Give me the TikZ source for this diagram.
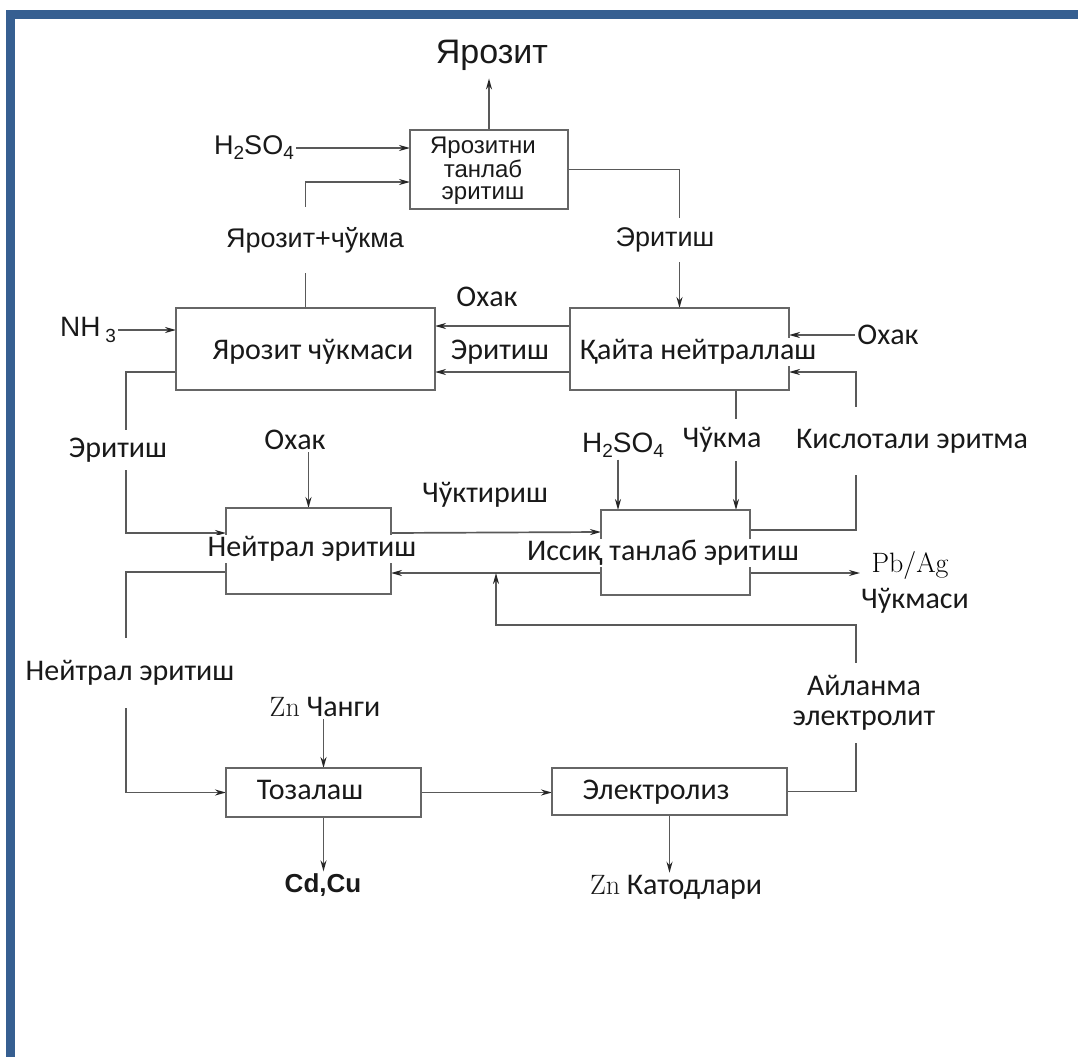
\documentclass[tikz,border=0pt]{standalone}
\usepackage{fontspec}
\usetikzlibrary{arrows.meta,calc}
\newfontfamily\calfont{Carlito}
\newfontfamily\arfont{Liberation Sans}
\newcommand\lbsub[1]{\raisebox{-0.35ex}{\fontsize{19}{19}\selectfont #1}}
\definecolor{frameblue}{RGB}{54,95,145}
\pgfdeclarelayer{bg}\pgfsetlayers{bg,main}
\begin{document}
\begin{tikzpicture}[x=1pt,y=-1pt,
  every node/.style={font=\calfont\fontsize{30}{34}\selectfont, text=black!90, inner sep=2pt},
  conn/.style={draw=black!65, line width=1.7pt},
  arr/.style={conn,-{Stealth[length=11pt,width=6pt,color=black!85]}},
  box/.style={draw=black!60, line width=2.8pt, inner sep=0pt, outer sep=0pt},
  boxtext/.style={fill=white, inner xsep=3pt, inner ysep=1pt},
  gaplbl/.style={fill=white, inner xsep=3pt, inner ysep=#1},
  gaplbl/.default=4pt,
  arial/.style={font=\arfont\fontsize{27}{30}\selectfont},
]
\useasboundingbox (0,0) rectangle (1078,1057);
\fill[frameblue] (6,10) rectangle (1078,19);
\fill[frameblue] (6,10) rectangle (15,1057);

% helper coordinates
\coordinate (lx) at (126,0);
\coordinate (rx) at (856,0);
\coordinate (jn) at (496,573);
\coordinate (pbend) at (860,573);

% boxes
\node[box, minimum width=158, minimum height=79] (b1) at (489,169.5) {};
\node[box, minimum width=259, minimum height=82] (b2) at (305.5,349) {};
\node[box, minimum width=219, minimum height=82] (b3) at (679.5,349) {};
\node[box, minimum width=165, minimum height=86] (b4) at (308.5,551) {};
\node[box, minimum width=149, minimum height=85] (b5) at (675.5,552.5) {};
\node[box, minimum width=195, minimum height=49] (b6) at (323.5,792.5) {};
\node[box, minimum width=235, minimum height=47] (b7) at (669.5,791.5) {};

% box texts
\node[align=center, inner sep=0pt, font=\arfont\fontsize{24}{22.5}\selectfont] (t1) at (483,171) {Ярозитни\\танлаб\\эритиш};
\node[boxtext] (t2) at (313,352) {Ярозит чўкмаси};
\node[boxtext] (t3) at (698,352) {Қайта нейтраллаш};
\node[boxtext] (t4) at (312,549) {Нейтрал эритиш};
\node[boxtext] (t5) at (663,553) {Иссиқ танлаб эритиш};
\node[boxtext] (t6) at (310,790) {Тозалаш};
\node[boxtext] (t7) at (656,792) {Электролиз};

% labels
\node[inner sep=0pt, font=\arfont\fontsize{34}{38}\selectfont] (lYar) at (492,55) {Ярозит};
\node[arial] (lH1) at (254,148) {H\lbsub{2}SO\lbsub{4}};
\node[gaplbl=20pt, arial] (lYc) at (315,240) {Ярозит+чўкма};
\node[gaplbl=10pt, arial] (lE1) at (665,240) {Эритиш};
\node[font=\arfont\fontsize{28}{30}\selectfont] (lNH) at (88,330) {NH\,\lbsub{3}};
\node (lOx1) at (487,297) {Охак};
\node (lE2) at (500,352) {Эритиш};
\node (lOx2) at (888,335) {Охак};
\node[gaplbl=8pt] (lE3) at (118,450) {Эритиш};
\node (lOx3) at (295,440) {Охак};
\node[font=\arfont\fontsize{28}{30}\selectfont] (lH2) at (623,445) {H\lbsub{2}SO\lbsub{4}};
\node[gaplbl=8pt] (lCh) at (722,440) {Чўкма};
\node[gaplbl=22pt] (lKis) at (912,441) {Кислотали эритма};
\node (lChk) at (485,495) {Чўктириш};
\node[font=\rmfamily\fontsize{28}{30}\selectfont, text=black] (lPb) at (910,565) {Pb/Ag};
\node (lPb2) at (915,601) {Чўкмаси};
\node[gaplbl=22pt] (lNe) at (130,673) {Нейтрал эритиш};
\node (lZn) at (325,707) {{\rmfamily\fontsize{28}{30}\selectfont Zn} Чанги};
\node[gaplbl=12pt, align=center, font=\calfont\fontsize{30}{30}\selectfont] (lAy) at (864,703) {Айланма\\электролит};
\node[font=\arfont\bfseries\fontsize{26}{30}\selectfont] (lCd) at (323,885) {Cd,Cu};
\node (lKat) at (676,887) {{\rmfamily\fontsize{28}{30}\selectfont Zn} Катодлари};

% connectors
\begin{pgfonlayer}{bg}
\draw[arr] (b1.north) -- ([yshift=-8pt]b1.north |- lYar.south);
\draw[arr] (lH1.east) -- (lH1.east -| b1.west);
\draw[arr] (b2.north) |- ($(b1.west)+(0,12.5)$);
\draw[arr] (b1.east) -| (b3.north);
\draw[arr] (lNH.east) -- (lNH.east -| b2.west);
\draw[arr] ($(b3.west)+(0,-23)$) -- ($(b2.east)+(0,-23)$);
\draw[arr] ($(b3.west)+(0,23)$) -- ($(b2.east)+(0,23)$);
\draw[arr] (lOx2.west) -- (lOx2.west -| b3.east);
\draw[arr] ($(b5.east)+(0,-22.5)$) -| ($(rx |- b3.east)+(0,23)$) -- ($(b3.east)+(0,23)$);
\draw[arr] ($(b3.south)+(56.5,0)$) coordinate (ck) -- (ck |- b5.north);
\draw[arr] ($(lH2.south)+(-5,0)$) coordinate (ch) -- (ch |- b5.north);
\draw[arr] ($(b2.west)+(0,23)$) -| ($(lx |- b4.west)+(0,-18)$) -- ($(b4.west)+(0,-18)$);
\draw[arr] (lOx3.south -| b4.north) -- (b4.north);
\draw[arr] ($(b4.east)+(0,-18)$) -- ($(b5.west)+(0,-20.5)$);
\draw[arr] (b5.west |- jn) -- (b4.east |- jn);
\draw[arr] (b7.east) -| ($(rx)+(0,625)$) -| (jn);
\draw[arr] (b5.east |- jn) -- (pbend);
\draw[arr] ($(b4.west)+(0,21)$) -| (lx |- b6.west) -- (b6.west);
\draw[arr] (lZn.south -| b6.north) -- (b6.north);
\draw[arr] (b6.south) -- (b6.south |- lCd.north);
\draw[arr] (b6.east) -- (b6.east -| b7.west);
\draw[arr] (b7.south) -- (b7.south |- lKat.north);
\end{pgfonlayer}
\end{tikzpicture}
\end{document}
